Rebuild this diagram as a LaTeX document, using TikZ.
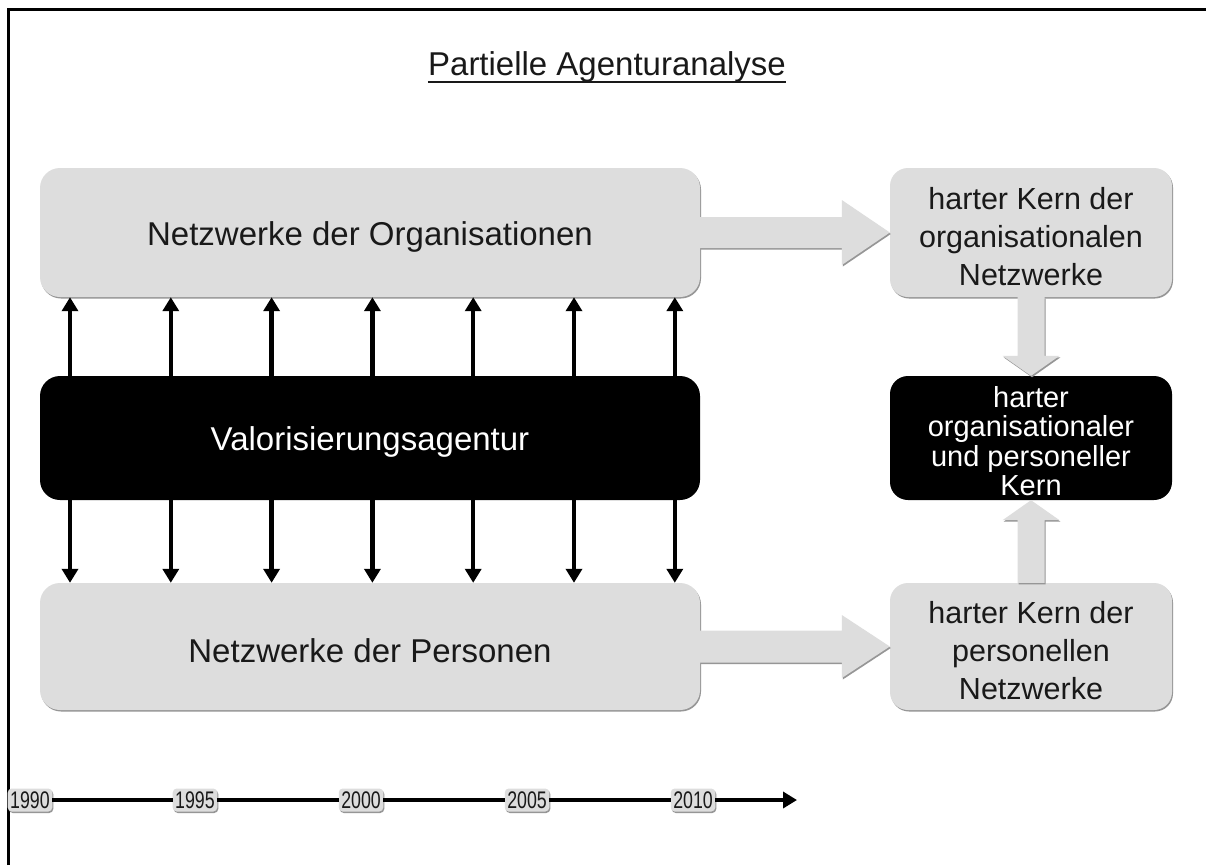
\documentclass[tikz,border=0pt]{standalone}
\usepackage{fontspec}
\usepackage{graphicx}
\setmainfont{Liberation Sans}
\usetikzlibrary{arrows.meta,calc}
\definecolor{boxgray}{RGB}{221,221,221}
\definecolor{shadowgray}{RGB}{150,150,150}
\definecolor{txt}{RGB}{25,25,25}
\newcommand{\narrowtxt}[1]{\scalebox{0.74}[1]{#1}}
\tikzset{
  shadowed/.style={preaction={fill=shadowgray, transform canvas={xshift=1pt,yshift=-1.5pt}}},
  graybox/.style={shadowed, fill=boxgray, rounded corners=20pt, inner sep=0pt},
  blackbox/.style={fill=black, rounded corners=20pt, inner sep=0pt},
  bigsize/.style={minimum width=660pt},
  smallsize/.style={minimum width=282pt, rounded corners=18pt},
  boxtext/.style={inner sep=0pt, align=center, text=txt},
  bigfont/.style={font=\fontsize{33}{40}\selectfont},
  conn/.style={line width=4.5pt, draw=black, -{Triangle[width=16pt,length=14pt]}},
  tline/.style={line width=4pt, draw=black},
  tarrow/.style={line width=4pt, draw=black, -{Triangle[width=16pt,length=14pt]}},
  blockarrow/.style={shadowed, fill=boxgray},
  yearbox/.style={shadowed, fill=boxgray, rounded corners=4pt, inner xsep=2.5pt, inner ysep=3pt, text=txt, font=\fontsize{24}{26}\selectfont},
  titlestyle/.style={inner sep=0pt, text=txt, font=\fontsize{33}{40}\selectfont},
}
\begin{document}
\begin{tikzpicture}[x=1pt,y=-1pt]
\useasboundingbox (0,0) rectangle (1206,865);
\fill[white] (0,0) rectangle (1206,865);
% frame
\draw[line width=3pt] (8.5,865) -- (8.5,9.5) -- (1206,9.5);
% title
\node[titlestyle, anchor=base] (title) at (607,75) {Partielle Agenturanalyse};
\draw[line width=2pt, txt] ($(title.base west)+(0,7)$) -- ($(title.base east)+(0,7)$);

% main boxes (shapes)
\node[graybox, bigsize, minimum height=129pt] (org) at (370,232.5) {};
\node[blackbox, bigsize, minimum height=124pt] (val) at (370,438) {};
\node[graybox, bigsize, minimum height=127pt] (per) at (370,646.5) {};
% right boxes (shapes)
\node[graybox, smallsize, minimum height=129pt] (hkorg) at (1031,232.5) {};
\node[blackbox, smallsize, minimum height=124pt] (hkcore) at (1031,438) {};
\node[graybox, smallsize, minimum height=127pt] (hkper) at (1031,646.5) {};

% block arrows
\fill[blockarrow] ($(org.east)+(0,-15.5)$) -- ($(hkorg.west)+(-48,-15.5)$) -- ($(hkorg.west)+(-48,-32.5)$) -- (hkorg.west) -- ($(hkorg.west)+(-48,32.5)$) -- ($(hkorg.west)+(-48,15.5)$) -- ($(org.east)+(0,15.5)$) -- cycle;
\fill[blockarrow] ($(per.east)+(0,-16)$) -- ($(hkper.west)+(-48,-16)$) -- ($(hkper.west)+(-48,-31.5)$) -- (hkper.west) -- ($(hkper.west)+(-48,31.5)$) -- ($(hkper.west)+(-48,16)$) -- ($(per.east)+(0,16)$) -- cycle;
\fill[blockarrow] ($(hkorg.south)+(-13.5,0)$) -- ($(hkcore.north)+(-13.5,-20)$) -- ($(hkcore.north)+(-28.5,-20)$) -- (hkcore.north) -- ($(hkcore.north)+(28.5,-20)$) -- ($(hkcore.north)+(13.5,-20)$) -- ($(hkorg.south)+(13.5,0)$) -- cycle;
\fill[blockarrow] ($(hkper.north)+(-13.5,0)$) -- ($(hkcore.south)+(-13.5,20)$) -- ($(hkcore.south)+(-28.5,20)$) -- (hkcore.south) -- ($(hkcore.south)+(28.5,20)$) -- ($(hkcore.south)+(13.5,20)$) -- ($(hkper.north)+(13.5,0)$) -- cycle;

% texts
\node[boxtext, bigfont] (orgtxt) at ($(org.center)+(0,4)$) {Netzwerke der Organisationen};
\node[boxtext, bigfont, text=white] (valtxt) at ($(val.center)+(0,4)$) {Valorisierungsagentur};
\node[boxtext, bigfont] (pertxt) at ($(per.center)+(0,4)$) {Netzwerke der Personen};
\node[boxtext, font=\fontsize{30.5}{38}\selectfont] (hkorgtxt) at ($(hkorg.center)+(0,4)$) {harter Kern der\\organisationalen\\Netzwerke};
\node[boxtext, text=white, font=\fontsize{29}{29.5}\selectfont] (hkcoretxt) at ($(hkcore.center)+(0,3)$) {harter\\organisationaler\\und personeller\\Kern};
\node[boxtext, font=\fontsize{30.5}{38}\selectfont] (hkpertxt) at ($(hkper.center)+(0,4)$) {harter Kern der\\personellen\\Netzwerke};

% thin arrows
\foreach \i in {0,...,6} {
  \coordinate (tx\i) at ({70+\i*100.8},0);
  \draw[conn] (val.north -| tx\i) -- (org.south -| tx\i);
  \draw[conn] (val.south -| tx\i) -- (per.north -| tx\i);
}

% timeline
\node[yearbox] (y1990) at (30,800) {\narrowtxt{1990}};
\node[yearbox] (y1995) at (195,800) {\narrowtxt{1995}};
\node[yearbox] (y2000) at (361,800) {\narrowtxt{2000}};
\node[yearbox] (y2005) at (527,800) {\narrowtxt{2005}};
\node[yearbox] (y2010) at (693,800) {\narrowtxt{2010}};
\coordinate (tlend) at (797,800);
\draw[tline] (y1990) -- (y1995);
\draw[tline] (y1995) -- (y2000);
\draw[tline] (y2000) -- (y2005);
\draw[tline] (y2005) -- (y2010);
\draw[tarrow] (y2010) -- (tlend);
\end{tikzpicture}
\end{document}
